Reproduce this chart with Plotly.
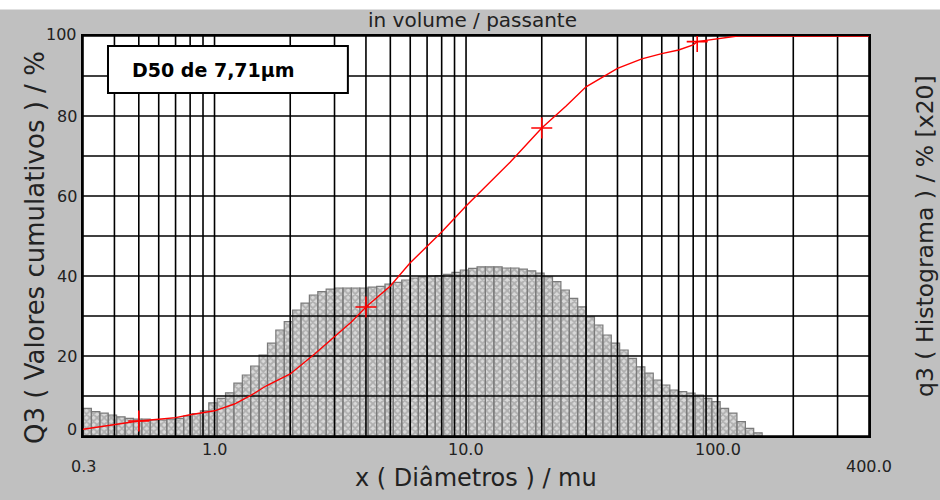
import math
import plotly.graph_objects as go

# Histogram classes (µm): edges of the size classes and q3 values (shown x20, % of left axis)
class_edges = [0.300, 0.324, 0.350, 0.378, 0.408, 0.441, 0.476, 0.514, 0.555, 0.599,
               0.646, 0.698, 0.754, 0.814, 0.879, 0.949, 1.024, 1.106, 1.194, 1.290,
               1.392, 1.504, 1.624, 1.753, 1.893, 2.044, 2.207, 2.383, 2.574, 2.779,
               3.00, 3.24, 3.50, 3.78, 4.08, 4.41, 4.76, 5.14, 5.55, 5.99,
               6.46, 6.98, 7.54, 8.14, 8.79, 9.49, 10.24, 11.06, 11.94, 12.90,
               13.92, 15.04, 16.24, 17.53, 18.93, 20.44, 22.07, 23.83, 25.74, 27.79,
               30.0, 32.4, 35.0, 37.8, 40.8, 44.1, 47.6, 51.4, 55.5, 59.9,
               64.6, 69.8, 75.4, 81.4, 87.9, 94.9, 102.4, 110.6, 119.4, 129.0,
               139.2, 150.4]
q3_x20 = [6.9, 6.1, 5.7, 5.25, 4.8, 4.4, 4.2, 4.2, 4.0, 4.0,
          4.2, 4.4, 5.0, 5.6, 6.3, 8.3, 9.4, 10.8, 13.2, 15.25,
          17.5, 20.25, 23.2, 26.5, 28.6, 31.5, 33.2, 35.25, 36.1, 36.7,
          37.0, 37.0, 37.0, 37.0, 37.2, 37.4, 38.0, 38.4, 39.0, 39.5,
          39.8, 40.0, 40.1, 40.4, 40.9, 41.5, 41.9, 42.3, 42.3, 42.3,
          42.0, 42.0, 41.7, 41.3, 40.7, 39.8, 38.6, 36.5, 34.4, 32.3,
          29.8, 27.75, 25.25, 23.2, 21.5, 19.4, 17.3, 15.7, 14.0, 12.75,
          11.5, 11.1, 10.7, 10.25, 9.4, 8.6, 6.9, 5.7, 3.6, 1.9,
          0.8]

# Cumulative passing curve Q3 (%)
cum_diam = [0.3, 0.4, 0.5, 0.6, 0.7, 0.8, 0.9, 1.0, 1.2, 1.4, 1.6, 1.8, 2.0, 2.5, 3.0,
            3.5, 4.0, 5.0, 6.0, 8.0, 10.0, 12.0, 15.0, 20.0, 25.0, 30.0, 40.0, 50.0,
            60.0, 70.0, 80.0, 83.0, 90.0, 100.0, 110.0, 120.0, 200.0, 400.0]
cum_q3 = [1.7, 2.9, 3.75, 4.2, 4.6, 5.3, 5.8, 6.3, 8.0, 10.2, 12.5, 14.0, 15.5, 20.5, 24.8,
          28.5, 32.25, 37.5, 43.3, 51.0, 57.5, 62.5, 68.5, 77.0, 82.5, 87.3, 91.9, 94.3,
          95.6, 96.5, 97.8, 98.6, 98.9, 99.2, 99.7, 100.0, 100.0, 100.0]

# Marked points on the cumulative curve
mark_diam = [0.5, 4.0, 20.0, 83.0]
mark_q3 = [3.75, 32.25, 77.0, 98.6]

# Grid positions
x_grid = [0.3, 0.4, 0.5, 0.6, 0.7, 0.8, 0.9, 1, 2, 3, 4, 5, 6, 7, 8, 9,
          10, 20, 30, 40, 50, 60, 70, 80, 90, 100, 200, 300, 400]
y_grid = [0, 10, 20, 30, 40, 50, 60, 70, 80, 90, 100]

x_tick_vals = [0.3, 1.0, 10.0, 100.0, 400.0]
x_tick_text = ["0.3", "1.0", "10.0", "100.0", "400.0"]
y_tick_vals = [0, 20, 40, 60, 80, 100]

X_MIN, X_MAX = 0.3, 400.0
FONT = "DejaVu Sans"
GREY_BG = "#c0c0c0"

fig = go.Figure()

# histogram bars as closed polygons, one per class
hx, hy = [], []
for i, h in enumerate(q3_x20):
    lo, hi = class_edges[i], class_edges[i + 1]
    hx += [lo, lo, hi, hi, lo, None]
    hy += [0, h, h, 0, 0, None]
fig.add_trace(go.Scatter(
    x=hx, y=hy, mode="lines", fill="toself",
    fillcolor="#dadada",
    fillpattern=dict(shape="x", fgcolor="#848484", bgcolor="#dadada",
                     size=5, solidity=0.6),
    line=dict(color="#7a7a7a", width=1.2),
    hoverinfo="skip", showlegend=False,
))

# grid lines drawn over the histogram
gx, gy = [], []
for v in x_grid:
    gx += [v, v, None]
    gy += [0, 100, None]
for v in y_grid:
    gx += [X_MIN, X_MAX, None]
    gy += [v, v, None]
fig.add_trace(go.Scatter(
    x=gx, y=gy, mode="lines", line=dict(color="#000000", width=1.6),
    hoverinfo="skip", showlegend=False,
))

# cumulative curve
fig.add_trace(go.Scatter(
    x=cum_diam, y=cum_q3, mode="lines",
    line=dict(color="#ff0000", width=1.4),
    showlegend=False,
))
fig.add_trace(go.Scatter(
    x=mark_diam, y=mark_q3, mode="markers",
    marker=dict(symbol="cross-thin", size=15, line=dict(color="#ff0000", width=1.6)),
    showlegend=False,
))

annotations = []
# x tick labels (first and last sit lower)
for v, t in zip(x_tick_vals, x_tick_text):
    low = v in (X_MIN, X_MAX)
    annotations.append(dict(
        x=math.log10(v), xref="x", y=0, yref="paper",
        text=t, showarrow=False, xanchor="center", yanchor="middle",
        yshift=-30 if low else -13,
        font=dict(family=FONT, size=16, color="#222222"),
    ))
# y tick labels
for v in y_tick_vals:
    annotations.append(dict(
        x=0, xref="paper", y=v, yref="y",
        text=str(v), showarrow=False, xanchor="right", yanchor="middle",
        xshift=-4, yshift=7 if v == 0 else (2 if v == 100 else 0),
        font=dict(family=FONT, size=16, color="#222222"),
    ))
# titles
annotations += [
    dict(x=0.5, xref="paper", y=1, yref="paper", text="in volume / passante",
         showarrow=False, xanchor="center", yanchor="middle", xshift=-4, yshift=16,
         font=dict(family=FONT, size=20, color="#222222")),
    dict(x=0.5, xref="paper", y=0, yref="paper", text="x ( Diâmetros ) / mu",
         showarrow=False, xanchor="center", yanchor="middle", yshift=-42,
         font=dict(family=FONT, size=24, color="#222222")),
    dict(x=0, xref="paper", y=0.5, yref="paper", text="Q3 ( Valores cumulativos ) / %",
         showarrow=False, xanchor="center", yanchor="middle", textangle=-90,
         xshift=-48, yshift=-12,
         font=dict(family=FONT, size=26, color="#222222")),
    dict(x=1, xref="paper", y=0.5, yref="paper", text="q3 ( Histograma ) / % [x20]",
         showarrow=False, xanchor="center", yanchor="middle", textangle=-90,
         xshift=56, yshift=0,
         font=dict(family=FONT, size=23.5, color="#222222")),
    dict(x=0.0598, xref="paper", y=0.915, yref="paper", text="<b>D50 de 7,71µm</b>",
         showarrow=False, xanchor="left", yanchor="middle",
         font=dict(family=FONT, size=19, color="#000000")),
]

shapes = [
    # white strip along the top edge of the window
    dict(type="rect", xref="paper", yref="paper", x0=-0.2, x1=1.2, y0=1.066, y1=1.2,
         fillcolor="#ffffff", line=dict(width=0), layer="above"),
    # D50 text box
    dict(type="rect", xref="paper", yref="paper", x0=0.0318, x1=0.337, y0=0.8575, y1=0.975,
         fillcolor="#ffffff", line=dict(color="#000000", width=2), layer="above"),
]

fig.update_layout(
    width=940, height=500,
    margin=dict(l=83, r=71, t=36, b=64),
    paper_bgcolor=GREY_BG, plot_bgcolor="#ffffff",
    annotations=annotations, shapes=shapes,
    showlegend=False,
    xaxis=dict(type="log", range=[math.log10(X_MIN), math.log10(X_MAX)],
               showgrid=False, zeroline=False, showticklabels=False, ticks="",
               showline=True, mirror=True, linecolor="#000000", linewidth=2),
    yaxis=dict(range=[0, 100], showgrid=False, zeroline=False, showticklabels=False,
               ticks="", showline=True, mirror=True, linecolor="#000000", linewidth=2),
)

fig.write_html("out.html")
